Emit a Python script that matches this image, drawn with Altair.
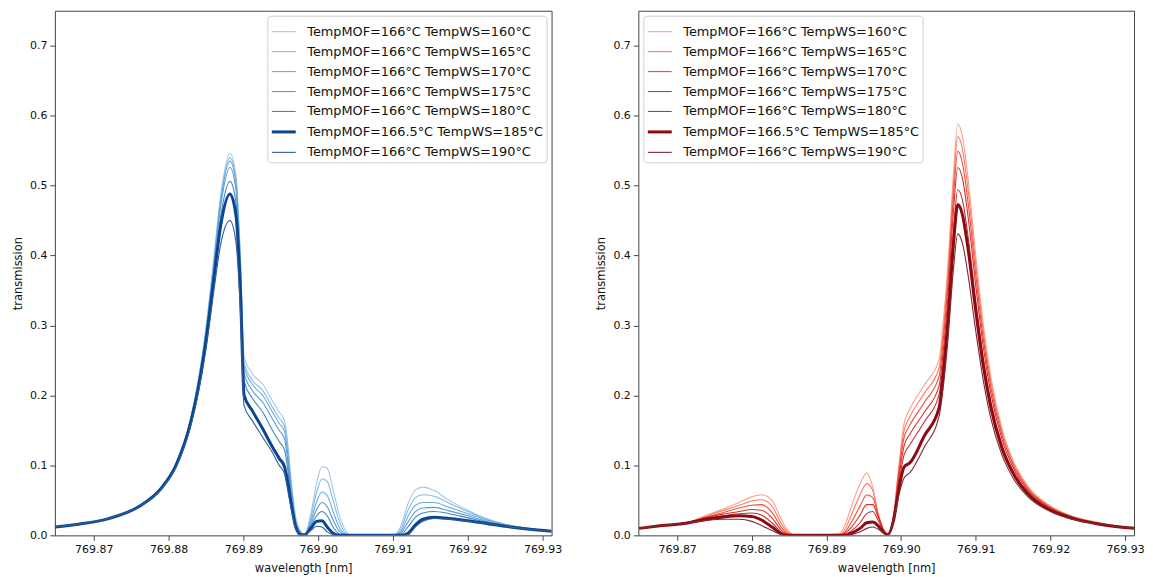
import altair as alt
import pandas as pd

series = [
    "TempMOF=166°C TempWS=160°C",
    "TempMOF=166°C TempWS=165°C",
    "TempMOF=166°C TempWS=170°C",
    "TempMOF=166°C TempWS=175°C",
    "TempMOF=166°C TempWS=180°C",
    "TempMOF=166.5°C TempWS=185°C",
    "TempMOF=166°C TempWS=190°C",
]
blue_colors = ["#9fc9ea", "#85bbe3", "#6caadb", "#5899d0", "#4284c2", "#0a4590", "#335a96"]
red_colors = ["#fca08a", "#fb7b62", "#ee4b3c", "#d8302b", "#c0303a", "#8f0a10", "#7a2a35"]
widths = [1.1, 1.1, 1.1, 1.1, 1.1, 3.0, 1.1]

x_ticks = [769.87, 769.88, 769.89, 769.90, 769.91, 769.92, 769.93]
y_ticks = [0.0, 0.1, 0.2, 0.3, 0.4, 0.5, 0.6, 0.7]

# ---- left panel ----
wl_left = [769.8648, 769.868, 769.872, 769.876, 769.879, 769.881, 769.883, 769.884, 769.885, 769.886,
           769.887, 769.8882, 769.889, 769.8896, 769.8901, 769.8912, 769.8926, 769.8939, 769.8948, 769.8955,
           769.8959, 769.8964, 769.8970, 769.8977, 769.8982, 769.8990, 769.8998, 769.9005, 769.9012, 769.9020,
           769.9028, 769.9036, 769.9045, 769.9100, 769.9110, 769.9120, 769.9130, 769.9140, 769.9155, 769.9175,
           769.9200, 769.9225, 769.9250, 769.9280, 769.9312]
L160 = [0.012, 0.016, 0.024, 0.042, 0.069, 0.104, 0.170, 0.224, 0.297, 0.391,
        0.489, 0.546, 0.515, 0.400, 0.255, 0.231, 0.216, 0.192, 0.176, 0.164,
        0.135, 0.078, 0.026, 0.005, 0.001, 0.030, 0.075, 0.098, 0.096, 0.065,
        0.030, 0.008, 0.000, 0.000, 0.012, 0.045, 0.065, 0.069, 0.064, 0.050,
        0.036, 0.024, 0.016, 0.010, 0.006]
L165 = [0.012, 0.016, 0.024, 0.042, 0.069, 0.103, 0.169, 0.222, 0.294, 0.387,
        0.484, 0.540, 0.509, 0.394, 0.247, 0.222, 0.207, 0.183, 0.167, 0.156,
        0.128, 0.072, 0.023, 0.004, 0.001, 0.025, 0.062, 0.081, 0.077, 0.050,
        0.021, 0.004, 0.000, 0.000, 0.008, 0.036, 0.054, 0.058, 0.056, 0.046,
        0.034, 0.023, 0.016, 0.010, 0.006]
L170 = [0.012, 0.016, 0.024, 0.042, 0.068, 0.103, 0.168, 0.221, 0.292, 0.384,
        0.480, 0.535, 0.504, 0.390, 0.241, 0.216, 0.200, 0.176, 0.160, 0.149,
        0.120, 0.067, 0.021, 0.003, 0.001, 0.020, 0.048, 0.062, 0.057, 0.034,
        0.012, 0.002, 0.000, 0.000, 0.005, 0.027, 0.043, 0.047, 0.047, 0.040,
        0.031, 0.022, 0.015, 0.010, 0.006]
L175 = [0.012, 0.016, 0.024, 0.042, 0.068, 0.102, 0.167, 0.219, 0.289, 0.379,
        0.473, 0.526, 0.495, 0.382, 0.232, 0.207, 0.190, 0.166, 0.150, 0.138,
        0.110, 0.060, 0.018, 0.003, 0.001, 0.016, 0.037, 0.047, 0.041, 0.022,
        0.006, 0.001, 0.000, 0.000, 0.003, 0.019, 0.034, 0.039, 0.040, 0.035,
        0.028, 0.020, 0.014, 0.009, 0.006]
L180 = [0.012, 0.016, 0.024, 0.041, 0.067, 0.101, 0.165, 0.215, 0.283, 0.370,
        0.458, 0.506, 0.476, 0.368, 0.220, 0.196, 0.176, 0.150, 0.134, 0.122,
        0.098, 0.052, 0.016, 0.002, 0.001, 0.013, 0.028, 0.034, 0.028, 0.012,
        0.002, 0.000, 0.000, 0.000, 0.001, 0.012, 0.026, 0.032, 0.034, 0.031,
        0.025, 0.019, 0.014, 0.009, 0.006]
L185 = [0.012, 0.016, 0.024, 0.041, 0.067, 0.100, 0.163, 0.212, 0.278, 0.362,
        0.445, 0.488, 0.458, 0.350, 0.200, 0.178, 0.152, 0.126, 0.110, 0.098,
        0.078, 0.045, 0.012, 0.001, 0.001, 0.010, 0.020, 0.021, 0.012, 0.003,
        0.000, 0.000, 0.000, 0.000, 0.000, 0.003, 0.015, 0.023, 0.026, 0.024,
        0.021, 0.017, 0.013, 0.009, 0.006]
L190 = [0.012, 0.016, 0.024, 0.041, 0.066, 0.098, 0.158, 0.205, 0.266, 0.345,
        0.418, 0.450, 0.420, 0.320, 0.185, 0.164, 0.140, 0.118, 0.100, 0.088,
        0.066, 0.038, 0.010, 0.001, 0.001, 0.007, 0.013, 0.012, 0.005, 0.001,
        0.000, 0.000, 0.000, 0.000, 0.000, 0.001, 0.012, 0.020, 0.024, 0.023,
        0.020, 0.017, 0.013, 0.009, 0.006]

# ---- right panel ----
wl_right = [769.8649, 769.8680, 769.8716, 769.8738, 769.8760, 769.8783, 769.8800, 769.8813, 769.8827, 769.8840,
            769.8849, 769.8860, 769.8916, 769.8925, 769.8933, 769.8945, 769.8954, 769.8962, 769.8969, 769.8977,
            769.8982, 769.8990, 769.8997, 769.9004, 769.9012, 769.9031, 769.9051, 769.9056, 769.9063, 769.9070,
            769.9076, 769.9082, 769.9090, 769.9100, 769.9110, 769.9120, 769.9135, 769.9150, 769.9170, 769.9200,
            769.9230, 769.9260, 769.9312]
R160 = [0.010, 0.014, 0.019, 0.0285, 0.037, 0.047, 0.055, 0.058, 0.050, 0.022,
        0.006, 0.000, 0.002, 0.015, 0.040, 0.074, 0.089, 0.069, 0.031, 0.007,
        0.001, 0.030, 0.100, 0.160, 0.181, 0.215, 0.252, 0.300, 0.390, 0.515,
        0.588, 0.571, 0.507, 0.400, 0.302, 0.228, 0.153, 0.107, 0.070, 0.042,
        0.027, 0.019, 0.010]
R165 = [0.010, 0.014, 0.019, 0.027, 0.035, 0.043, 0.049, 0.051, 0.042, 0.016,
        0.004, 0.000, 0.001, 0.009, 0.028, 0.058, 0.074, 0.064, 0.032, 0.007,
        0.001, 0.029, 0.095, 0.150, 0.170, 0.203, 0.240, 0.287, 0.378, 0.500,
        0.570, 0.553, 0.491, 0.387, 0.293, 0.221, 0.149, 0.104, 0.068, 0.041,
        0.027, 0.019, 0.010]
R170 = [0.010, 0.014, 0.019, 0.026, 0.032, 0.039, 0.043, 0.044, 0.033, 0.011,
        0.002, 0.000, 0.000, 0.005, 0.018, 0.042, 0.058, 0.054, 0.030, 0.007,
        0.001, 0.028, 0.090, 0.140, 0.158, 0.190, 0.228, 0.274, 0.364, 0.482,
        0.549, 0.533, 0.473, 0.373, 0.282, 0.213, 0.144, 0.101, 0.066, 0.040,
        0.026, 0.018, 0.010]
R175 = [0.010, 0.014, 0.019, 0.025, 0.030, 0.034, 0.037, 0.036, 0.025, 0.007,
        0.001, 0.000, 0.000, 0.003, 0.011, 0.029, 0.044, 0.044, 0.027, 0.006,
        0.001, 0.026, 0.083, 0.128, 0.145, 0.176, 0.214, 0.258, 0.346, 0.462,
        0.526, 0.511, 0.453, 0.357, 0.270, 0.204, 0.138, 0.097, 0.064, 0.039,
        0.026, 0.018, 0.010]
R180 = [0.010, 0.014, 0.019, 0.024, 0.028, 0.031, 0.032, 0.029, 0.018, 0.004,
        0.000, 0.000, 0.000, 0.001, 0.006, 0.018, 0.031, 0.034, 0.022, 0.006,
        0.001, 0.024, 0.075, 0.115, 0.130, 0.162, 0.202, 0.244, 0.325, 0.434,
        0.494, 0.480, 0.425, 0.335, 0.254, 0.192, 0.130, 0.092, 0.061, 0.037,
        0.025, 0.018, 0.010]
R185 = [0.010, 0.014, 0.018, 0.023, 0.026, 0.028, 0.027, 0.022, 0.012, 0.002,
        0.000, 0.000, 0.000, 0.000, 0.003, 0.010, 0.018, 0.019, 0.014, 0.004,
        0.001, 0.022, 0.066, 0.098, 0.104, 0.142, 0.183, 0.226, 0.310, 0.415,
        0.473, 0.459, 0.407, 0.321, 0.243, 0.184, 0.125, 0.089, 0.059, 0.036,
        0.024, 0.017, 0.010]
R190 = [0.010, 0.014, 0.018, 0.021, 0.023, 0.023, 0.020, 0.014, 0.007, 0.001,
        0.000, 0.000, 0.000, 0.000, 0.001, 0.005, 0.010, 0.012, 0.009, 0.003,
        0.001, 0.020, 0.058, 0.082, 0.090, 0.126, 0.171, 0.208, 0.283, 0.380,
        0.431, 0.418, 0.370, 0.292, 0.222, 0.168, 0.115, 0.082, 0.055, 0.034,
        0.023, 0.017, 0.010]

left_vals = [L160, L165, L170, L175, L180, L185, L190]
right_vals = [R160, R165, R170, R175, R180, R185, R190]

FONT = "DejaVu Sans"


def to_frame(wl, vals):
    rows = []
    for k, (name, ys) in enumerate(zip(series, vals)):
        for w, v in zip(wl, ys):
            rows.append({"wavelength": w, "transmission": v, "series": name, "k": k})
    return pd.DataFrame(rows)


def panel(wl, vals, colors, orient, width):
    df = to_frame(wl, vals)
    leg = alt.Legend(
        title=None, orient=orient, offset=5, padding=3,
        strokeColor="#d0d0d0", fillColor="white", cornerRadius=3,
        labelFont=FONT, labelFontSize=12.9, labelColor="#111111",
        symbolType="stroke", symbolSize=576, labelOffset=10, rowPadding=-6,
        labelLimit=400,
    )
    return alt.Chart(df).mark_line(interpolate="monotone", clip=True).encode(
        x=alt.X("wavelength:Q",
                scale=alt.Scale(domain=[769.8648, 769.9312], nice=False, zero=False),
                axis=alt.Axis(title="wavelength [nm]", values=x_ticks, format=".2f", titlePadding=8)),
        y=alt.Y("transmission:Q",
                scale=alt.Scale(domain=[0, 0.75], nice=False),
                axis=alt.Axis(title="transmission", values=y_ticks, format=".1f", titlePadding=6)),
        color=alt.Color("series:N", scale=alt.Scale(type="ordinal", domain=series, range=colors), legend=leg),
        strokeWidth=alt.StrokeWidth("series:N", scale=alt.Scale(type="ordinal", domain=series, range=widths), legend=leg),
        order=alt.Order("k:Q"),
    ).properties(width=width, height=526)


left = panel(wl_left, left_vals, blue_colors, "top-right", 498)
right = panel(wl_right, right_vals, red_colors, "top-left", 497)

chart = alt.hconcat(left, right, spacing=87, bounds="flush").resolve_scale(
    color="independent", strokeWidth="independent"
).resolve_legend(
    color="independent", strokeWidth="independent"
).properties(
    padding={"left": 4, "top": 1, "right": 0, "bottom": 0}
).configure_view(
    stroke="#444444", strokeWidth=1
).configure_axis(
    labelFont=FONT, labelFontSize=11, labelColor="#111111",
    titleFont=FONT, titleFontSize=11.5, titleFontWeight="normal", titleColor="#111111",
    tickSize=5, tickColor="#444444", labelPadding=3, domain=False, grid=False,
)

chart.save("out.html", embed_options={"renderer": "svg", "actions": False})
